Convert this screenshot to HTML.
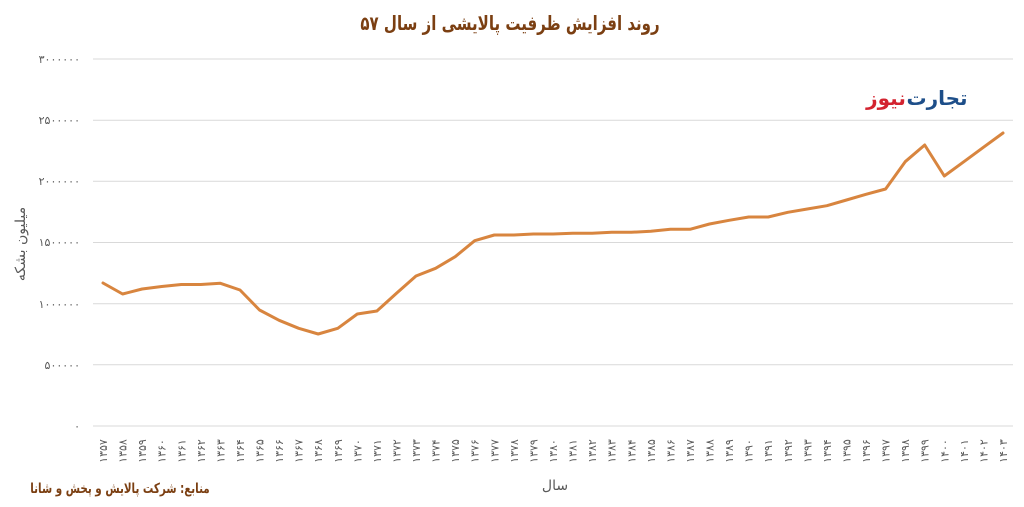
<!DOCTYPE html>
<html>
<head>
<meta charset="utf-8">
<style>
html,body{margin:0;padding:0;background:#fff;}
svg{display:block;}
text{font-family:"DejaVu Sans","Liberation Sans",sans-serif;}
</style>
</head>
<body>
<svg width="1024" height="507" viewBox="0 0 1024 507" xmlns="http://www.w3.org/2000/svg">
<rect width="1024" height="507" fill="#fff"/>
<!-- title -->
<text transform="translate(510,30) scale(0.77,1)" x="0" y="0" text-anchor="middle" direction="rtl" font-size="19.5" font-weight="bold" fill="#7b3f12">روند افزایش ظرفیت پالایشی از سال ۵۷</text>
<!-- gridlines -->
<g stroke="#d9d9d9" stroke-width="1">
<line x1="93" y1="59" x2="1013" y2="59"/>
<line x1="93" y1="120.2" x2="1013" y2="120.2"/>
<line x1="93" y1="181.3" x2="1013" y2="181.3"/>
<line x1="93" y1="242.5" x2="1013" y2="242.5"/>
<line x1="93" y1="303.7" x2="1013" y2="303.7"/>
<line x1="93" y1="364.8" x2="1013" y2="364.8"/>
<line x1="93" y1="426" x2="1013" y2="426"/>
</g>
<!-- y labels -->
<g font-size="11" fill="#595959" text-anchor="end">
<text x="80" y="63">۳۰۰۰۰۰۰</text>
<text x="80" y="124">۲۵۰۰۰۰۰</text>
<text x="80" y="185">۲۰۰۰۰۰۰</text>
<text x="80" y="246">۱۵۰۰۰۰۰</text>
<text x="80" y="308">۱۰۰۰۰۰۰</text>
<text x="80" y="369">۵۰۰۰۰۰</text>
<text x="80" y="430">۰</text>
</g>
<!-- y title -->
<text transform="translate(25,244) rotate(-90)" text-anchor="middle" direction="rtl" font-size="14" fill="#595959">میلیون بشکه</text>
<!-- logo -->
<text x="937" y="105" text-anchor="middle" direction="rtl" font-size="20" font-weight="bold" fill="#1d4e89">تجارت</text>
<text x="886" y="105" text-anchor="middle" direction="rtl" font-size="20" font-weight="bold" fill="#d3232f">نیوز</text>
<!-- series -->
<polyline fill="none" stroke="#d8853f" stroke-width="3" stroke-linejoin="round" stroke-linecap="round" points="103,283 122.6,294 142.1,289 161.7,286.5 181.3,284.5 200.8,284.5 220.4,283.3 240,290 259.5,310 279.1,320.3 298.7,328.3 318.2,334 337.8,328.3 357.3,314 376.9,311 396.5,293.3 416,276 435.6,268.3 455.2,256.7 474.7,240.7 494.3,235 513.9,235 533.4,234 553,234 572.6,233.3 592.1,233.3 611.7,232.3 631.3,232.3 650.8,231.3 670.4,229.3 690,229.3 709.5,224 729.1,220.3 748.7,217 768.2,217 787.8,212.3 807.3,209 826.9,205.7 846.5,200 866,194.3 885.6,189 905.2,161.7 924.7,145 944.3,176 963.9,161.7 983.4,147.3 1003,133"/>
<!-- x labels -->
<g font-size="11" fill="#595959" text-anchor="middle">
<text transform="translate(107,451) rotate(-90)">۱۳۵۷</text>
<text transform="translate(126.6,451) rotate(-90)">۱۳۵۸</text>
<text transform="translate(146.1,451) rotate(-90)">۱۳۵۹</text>
<text transform="translate(165.7,451) rotate(-90)">۱۳۶۰</text>
<text transform="translate(185.3,451) rotate(-90)">۱۳۶۱</text>
<text transform="translate(204.8,451) rotate(-90)">۱۳۶۲</text>
<text transform="translate(224.4,451) rotate(-90)">۱۳۶۳</text>
<text transform="translate(244,451) rotate(-90)">۱۳۶۴</text>
<text transform="translate(263.5,451) rotate(-90)">۱۳۶۵</text>
<text transform="translate(283.1,451) rotate(-90)">۱۳۶۶</text>
<text transform="translate(302.7,451) rotate(-90)">۱۳۶۷</text>
<text transform="translate(322.2,451) rotate(-90)">۱۳۶۸</text>
<text transform="translate(341.8,451) rotate(-90)">۱۳۶۹</text>
<text transform="translate(361.3,451) rotate(-90)">۱۳۷۰</text>
<text transform="translate(380.9,451) rotate(-90)">۱۳۷۱</text>
<text transform="translate(400.5,451) rotate(-90)">۱۳۷۲</text>
<text transform="translate(420,451) rotate(-90)">۱۳۷۳</text>
<text transform="translate(439.6,451) rotate(-90)">۱۳۷۴</text>
<text transform="translate(459.2,451) rotate(-90)">۱۳۷۵</text>
<text transform="translate(478.7,451) rotate(-90)">۱۳۷۶</text>
<text transform="translate(498.3,451) rotate(-90)">۱۳۷۷</text>
<text transform="translate(517.9,451) rotate(-90)">۱۳۷۸</text>
<text transform="translate(537.4,451) rotate(-90)">۱۳۷۹</text>
<text transform="translate(557,451) rotate(-90)">۱۳۸۰</text>
<text transform="translate(576.6,451) rotate(-90)">۱۳۸۱</text>
<text transform="translate(596.1,451) rotate(-90)">۱۳۸۲</text>
<text transform="translate(615.7,451) rotate(-90)">۱۳۸۳</text>
<text transform="translate(635.3,451) rotate(-90)">۱۳۸۴</text>
<text transform="translate(654.8,451) rotate(-90)">۱۳۸۵</text>
<text transform="translate(674.4,451) rotate(-90)">۱۳۸۶</text>
<text transform="translate(694,451) rotate(-90)">۱۳۸۷</text>
<text transform="translate(713.5,451) rotate(-90)">۱۳۸۸</text>
<text transform="translate(733.1,451) rotate(-90)">۱۳۸۹</text>
<text transform="translate(752.7,451) rotate(-90)">۱۳۹۰</text>
<text transform="translate(772.2,451) rotate(-90)">۱۳۹۱</text>
<text transform="translate(791.8,451) rotate(-90)">۱۳۹۲</text>
<text transform="translate(811.3,451) rotate(-90)">۱۳۹۳</text>
<text transform="translate(830.9,451) rotate(-90)">۱۳۹۴</text>
<text transform="translate(850.5,451) rotate(-90)">۱۳۹۵</text>
<text transform="translate(870,451) rotate(-90)">۱۳۹۶</text>
<text transform="translate(889.6,451) rotate(-90)">۱۳۹۷</text>
<text transform="translate(909.2,451) rotate(-90)">۱۳۹۸</text>
<text transform="translate(928.7,451) rotate(-90)">۱۳۹۹</text>
<text transform="translate(948.3,451) rotate(-90)">۱۴۰۰</text>
<text transform="translate(967.9,451) rotate(-90)">۱۴۰۱</text>
<text transform="translate(987.4,451) rotate(-90)">۱۴۰۲</text>
<text transform="translate(1007,451) rotate(-90)">۱۴۰۳</text>
</g>
<!-- x title -->
<text x="555" y="490" text-anchor="middle" direction="rtl" font-size="14" fill="#595959">سال</text>
<!-- source -->
<text transform="translate(120,493) scale(0.74,1)" x="0" y="0" text-anchor="middle" direction="rtl" font-size="14" font-weight="bold" fill="#7b3f12">منابع: شرکت پالایش و پخش و شانا</text>
</svg>
</body>
</html>
